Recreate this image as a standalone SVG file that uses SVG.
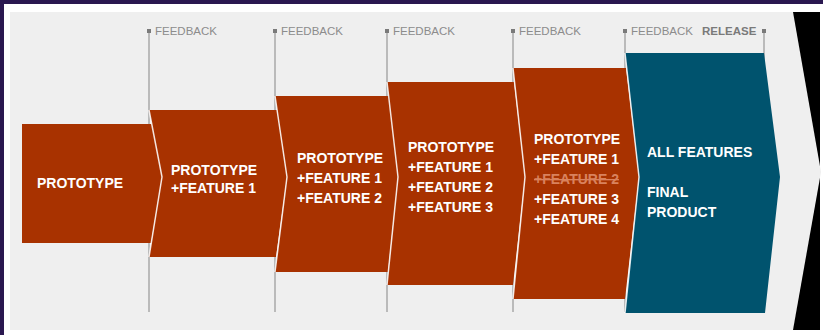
<svg xmlns="http://www.w3.org/2000/svg" width="823" height="335" viewBox="0 0 823 335">
  <defs>
    <style>
      .frame { fill: #2a1850; }
      .panel { fill: #efefef; }
      .stage { fill: #a83200; }
      .final { fill: #00536e; }
      .notch { fill: none; stroke: #ffffff; stroke-opacity: 0.85; stroke-width: 1.5; stroke-linejoin: round; }
      .tick { stroke: #a8a8a8; stroke-width: 1.5; }
      .dot { fill: #7a7a7a; }
      .flag { font-family: "Liberation Sans", Arial, sans-serif; font-size: 11.5px; fill: #8c8c8c; }
      .flag-strong { font-weight: bold; fill: #7a7a7a; }
      .label { font-family: "Liberation Sans", Arial, sans-serif; font-size: 14px; font-weight: bold; fill: #ffffff; }
      .dropped { fill: #d9825e; text-decoration: line-through; }
    </style>
  </defs>

  <!-- window frame and page -->
  <rect x="0" y="0" width="823" height="335" fill="#ffffff"/>
  <rect class="frame" x="0" y="0" width="823" height="4"/>
  <rect class="frame" x="0" y="0" width="4" height="335"/>
  <rect x="793" y="12" width="27" height="318" fill="#000000"/>
  <polygon class="panel" points="10,12 793,12 821,172 793,330 10,330"/>

  <!-- feedback / release markers -->
  <g id="markers">
    <line class="tick" x1="149" y1="31" x2="149" y2="312"/>
    <line class="tick" x1="275" y1="31" x2="275" y2="312"/>
    <line class="tick" x1="387" y1="31" x2="387" y2="312"/>
    <line class="tick" x1="513" y1="31" x2="513" y2="312"/>
    <line class="tick" x1="625" y1="31" x2="625" y2="312"/>
    <line class="tick" x1="764" y1="31" x2="764" y2="312"/>
    <rect class="dot" x="147" y="29" width="4" height="4"/>
    <rect class="dot" x="273" y="29" width="4" height="4"/>
    <rect class="dot" x="385" y="29" width="4" height="4"/>
    <rect class="dot" x="511" y="29" width="4" height="4"/>
    <rect class="dot" x="623" y="29" width="4" height="4"/>
    <rect class="dot" x="762" y="29" width="4" height="4"/>
    <text class="flag" x="155" y="35">FEEDBACK</text>
    <text class="flag" x="281" y="35">FEEDBACK</text>
    <text class="flag" x="393" y="35">FEEDBACK</text>
    <text class="flag" x="519" y="35">FEEDBACK</text>
    <text class="flag" x="631" y="35">FEEDBACK</text>
    <text class="flag flag-strong" x="702" y="35">RELEASE</text>
  </g>

  <!-- stages -->
  <g id="stage1">
    <polygon class="stage" points="22,124 152,124 162,177 151,243 22,243"/>
    <text class="label" x="37" y="188">PROTOTYPE</text>
  </g>
  <g id="stage2">
    <polygon class="stage" points="149,110 277,110 287,177 276,257 149,257 162,177"/>
    <text class="label" x="171" y="175">PROTOTYPE</text>
    <text class="label" x="171" y="193">+FEATURE 1</text>
  </g>
  <g id="stage3">
    <polygon class="stage" points="275,96 389,96 398,177 388,272 275,272 287,177"/>
    <text class="label" x="297" y="163">PROTOTYPE</text>
    <text class="label" x="297" y="183">+FEATURE 1</text>
    <text class="label" x="297" y="203">+FEATURE 2</text>
  </g>
  <g id="stage4">
    <polygon class="stage" points="387,82 514,82 525,177 513,285 387,285 398,177"/>
    <text class="label" x="408" y="152">PROTOTYPE</text>
    <text class="label" x="408" y="172">+FEATURE 1</text>
    <text class="label" x="408" y="192">+FEATURE 2</text>
    <text class="label" x="408" y="212">+FEATURE 3</text>
  </g>
  <g id="stage5">
    <polygon class="stage" points="513,68 626,68 639,177 625,299 513,299 525,177"/>
    <text class="label" x="534" y="144">PROTOTYPE</text>
    <text class="label" x="534" y="164">+FEATURE 1</text>
    <text class="label dropped" x="534" y="184">+FEATURE 2</text>
    <text class="label" x="534" y="204">+FEATURE 3</text>
    <text class="label" x="534" y="224">+FEATURE 4</text>
  </g>
  <g id="final">
    <polygon class="final" points="625,53 764,53 780,177 765,313 625,313 639,177"/>
    <text class="label" x="647" y="157">ALL FEATURES</text>
    <text class="label" x="647" y="197">FINAL</text>
    <text class="label" x="647" y="217">PRODUCT</text>
  </g>

  <!-- seams between stages -->
  <g id="connectors">
    <polyline class="notch" points="149,110 162,177 149,257"/>
    <polyline class="notch" points="275,96 287,177 275,272"/>
    <polyline class="notch" points="387,82 398,177 387,285"/>
    <polyline class="notch" points="513,68 525,177 513,299"/>
    <polyline class="notch" points="625,53 639,177 625,313"/>
  </g>
</svg>
